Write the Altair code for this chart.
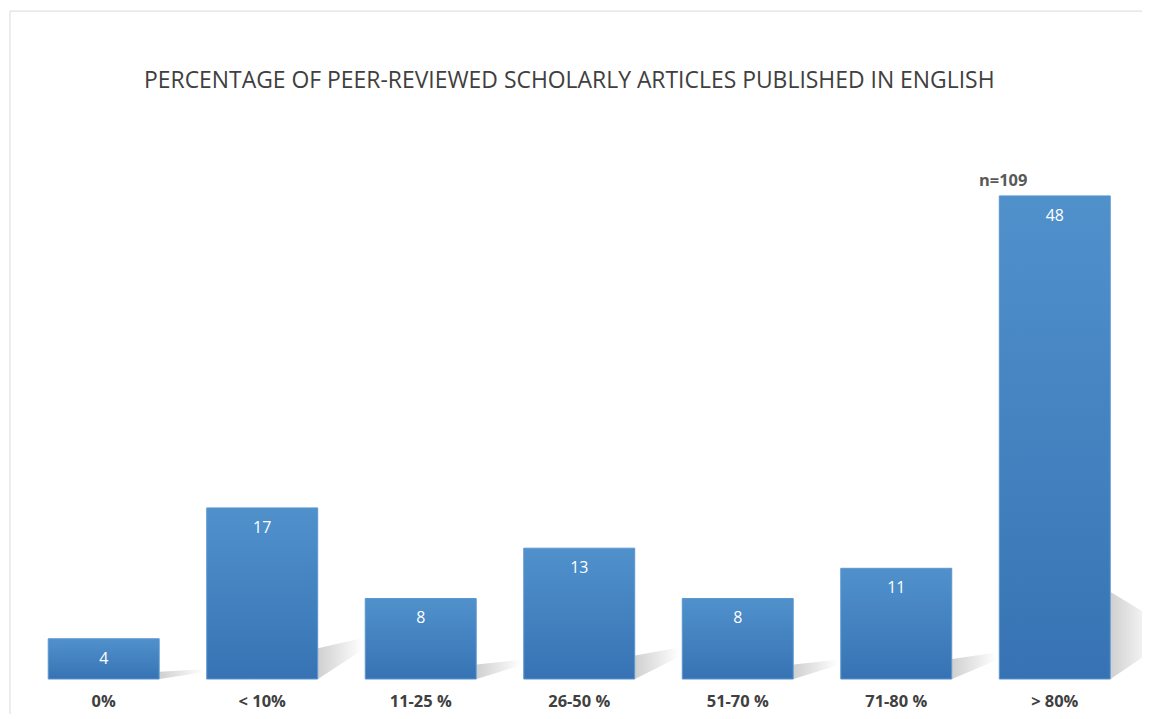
import altair as alt
import pandas as pd

categories = ["0%", "< 10%", "11-25 %", "26-50 %", "51-70 %", "71-80 %", "> 80%"]
counts = [4, 17, 8, 13, 8, 11, 48]
title_text = "PERCENTAGE OF PEER-REVIEWED SCHOLARLY ARTICLES PUBLISHED IN ENGLISH"
note_text = "n=109"

df = pd.DataFrame({"cat": categories, "count": counts})

# soft drop shadows to the right of each bar (decoration derived from the values)
half = 0.352
reach = 0.28
rows = []
for i, v in enumerate(counts):
    rows.append({"cat": categories[i], "xs": i + half, "y0": 0.0, "y1": 0.18 * v})
    rows.append({"cat": categories[i], "xs": i + half + reach, "y0": min(0.17 * v, 3.0), "y1": min(0.24 * v, 6.0)})
shadow = pd.DataFrame(rows)

W, H = 1113, 525
ydom = [0, 52]

xscale = alt.Scale(paddingInner=0.3, paddingOuter=0.15)
xband = alt.X("cat:N", sort=categories, title=None, scale=xscale,
              axis=alt.Axis(labelAngle=0, labelFont="Open Sans", labelFontSize=16.5,
                            labelFontWeight="bold", labelColor="#404040",
                            domain=False, ticks=False, grid=False, labelPadding=15))
yq = alt.Y("count:Q", scale=alt.Scale(domain=ydom), axis=None, title=None)

grad = alt.Gradient(gradient="linear", x1=0, y1=0, x2=0, y2=1,
                    stops=[alt.GradientStop(color="#5091cc", offset=0),
                           alt.GradientStop(color="#3773b4", offset=1)])
sgrad = alt.Gradient(gradient="linear", x1=0, y1=0, x2=1, y2=0,
                     stops=[alt.GradientStop(color="#c4c4c4", offset=0),
                            alt.GradientStop(color="#ffffff", offset=1)])

shadows = alt.Chart(shadow).mark_area(color=sgrad, opacity=0.8, interpolate="linear").encode(
    x=alt.X("xs:Q", scale=alt.Scale(domain=[-0.5, 6.5], nice=False, zero=False), axis=None),
    y=alt.Y("y1:Q", scale=alt.Scale(domain=ydom), axis=None),
    y2="y0:Q",
    detail="cat:N",
)

bars = alt.Chart(df).mark_bar(color=grad, stroke="#5a97d0", strokeWidth=1).encode(x=xband, y=yq)

labels = alt.Chart(df).mark_text(color="white", font="Open Sans", fontSize=16,
                                 baseline="middle", dy=20).encode(
    x=alt.X("cat:N", sort=categories), y=yq, text="count:Q")

note_df = pd.DataFrame({"cat": [categories[-1]], "count": [counts[-1]], "t": [note_text]})
note = alt.Chart(note_df).mark_text(color="#595959", font="Open Sans", fontSize=16.5,
                                    fontWeight="bold", align="left", baseline="middle",
                                    dx=-76, dy=-15).encode(
    x=alt.X("cat:N", sort=categories), y=yq, text="t:N")

title_df = pd.DataFrame({"t": [title_text]})
title = alt.Chart(title_df).mark_text(color="#404040", font="Open Sans", fontSize=23,
                                      align="center", baseline="alphabetic").encode(
    x=alt.value(546.5), y=alt.value(-68), text="t:N")

frame_left = alt.Chart(title_df).mark_rule(color="#d9d9d9", strokeWidth=1).encode(
    x=alt.value(-14.5), y=alt.value(-145), y2=alt.value(560))
frame_top = alt.Chart(title_df).mark_rule(color="#d9d9d9", strokeWidth=1).encode(
    x=alt.value(-14.5), x2=alt.value(1130), y=alt.value(-145))

main = alt.layer(bars, labels, note)

chart = alt.layer(frame_left, frame_top, title, shadows, main).resolve_scale(
    x="independent"
).properties(
    width=W, height=H,
    autosize=alt.AutoSizeParams(type="none"),
    padding={"left": 16.5, "top": 147, "right": 8, "bottom": 35},
).configure(background="white").configure_view(strokeWidth=0)

chart.save("out.html", embed_options={"renderer": "svg", "actions": False})
